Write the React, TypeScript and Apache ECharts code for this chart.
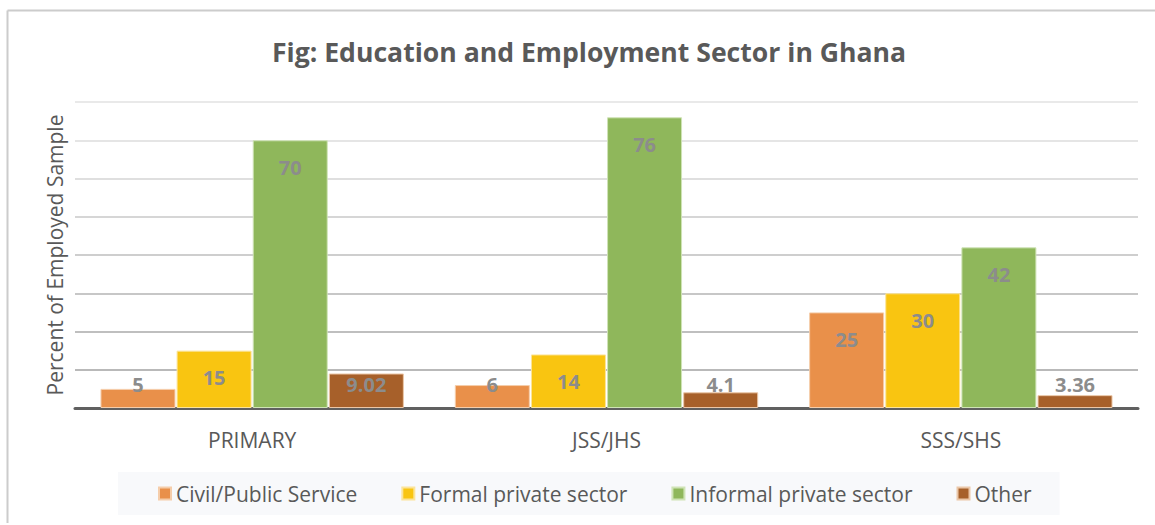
import React, { useEffect, useRef } from "react";
import * as echarts from "echarts";

const categories = ["PRIMARY", "JSS/JHS", "SSS/SHS"];
const civilService = [5, 6, 25];
const formalPrivate = [15, 14, 30];
const informalPrivate = [70, 76, 42];
const other = [9.02, 4.1, 3.36];
const seriesNames = ["Civil/Public Service", "Formal private sector", "Informal private sector", "Other"];
const seriesColors = ["#E9904A", "#F9C511", "#8FB75B", "#A7602A"];
const borderColors = ["#F5CDAA", "#FBE49A", "#CFE3B6", "#EBC7A8"];

const FONT = "'Open Sans', 'Noto Sans', sans-serif";

function buildData(values: number[]) {
  return values.map((v) => ({
    value: v,
    label: v >= 14 ? { position: "insideTop", distance: 17 } : { position: "insideBottom", distance: 14 },
  }));
}

export default function App() {
  const ref = useRef<HTMLDivElement>(null);
  useEffect(() => {
    if (!ref.current) return;
    const chart = echarts.init(ref.current, undefined, { renderer: "svg" });
    const allSeries = [civilService, formalPrivate, informalPrivate, other];
    chart.setOption({
      animation: false,
      backgroundColor: "#ffffff",
      textStyle: { fontFamily: FONT },
      title: {
        text: "Fig: Education and Employment Sector in Ghana",
        left: 267,
        top: 33,
        textStyle: { fontFamily: FONT, fontSize: 26.6, fontWeight: "bold", color: "#595959" },
      },
      graphic: [
        { type: "line", shape: { x1: 7.5, y1: 10.5, x2: 1155, y2: 10.5 }, style: { stroke: "#cccccc", lineWidth: 2 }, silent: true },
        { type: "line", shape: { x1: 7.5, y1: 10.5, x2: 7.5, y2: 523 }, style: { stroke: "#cccccc", lineWidth: 2 }, silent: true },
      ],
      legend: {
        data: seriesNames,
        bottom: 10,
        left: 118,
        icon: "rect",
        itemWidth: 12,
        itemHeight: 12,
        itemGap: 44,
        backgroundColor: "#F8F9FB",
        padding: [11, 28, 11, 40],
        textStyle: { fontFamily: FONT, fontSize: 21, color: "#595959" },
      },
      grid: { left: 75, right: 17, top: 102, bottom: 117 },
      xAxis: {
        type: "category",
        data: categories,
        axisTick: { show: false },
        axisLine: { lineStyle: { color: "#606060", width: 3 } },
        axisLabel: { fontFamily: FONT, fontSize: 21, color: "#595959", margin: 21 },
      },
      yAxis: {
        type: "value",
        min: 0,
        max: 80,
        interval: 10,
        name: "Percent of Employed Sample",
        nameLocation: "middle",
        nameGap: 10,
        nameTextStyle: { fontFamily: FONT, fontSize: 21, color: "#595959" },
        axisLabel: { show: false },
        axisTick: { show: false },
        axisLine: { show: false },
        splitLine: {
          lineStyle: {
            width: 1.5,
            color: ["#999999", "#a2a2a2", "#aaaaaa", "#b4b4b4", "#bebebe", "#c8c8c8", "#d4d4d4", "#dcdcdc", "#e2e2e2"],
          },
        },
      },
      series: allSeries.map((vals, i) => ({
        name: seriesNames[i],
        type: "bar",
        barWidth: 75,
        barGap: "1.5%",
        data: buildData(vals),
        itemStyle: { color: seriesColors[i], borderColor: borderColors[i], borderWidth: 1 },
        label: {
          show: true,
          fontFamily: FONT,
          fontSize: 20,
          fontWeight: "bold",
          color: "#8C8C8C",
        },
      })),
    });
    return () => chart.dispose();
  }, []);
  return (
    <div style={{ position: "fixed", left: 0, top: 0, width: 1155, height: 525 }}>
      <div ref={ref} style={{ width: 1155, height: 525 }} />
    </div>
  );
}
